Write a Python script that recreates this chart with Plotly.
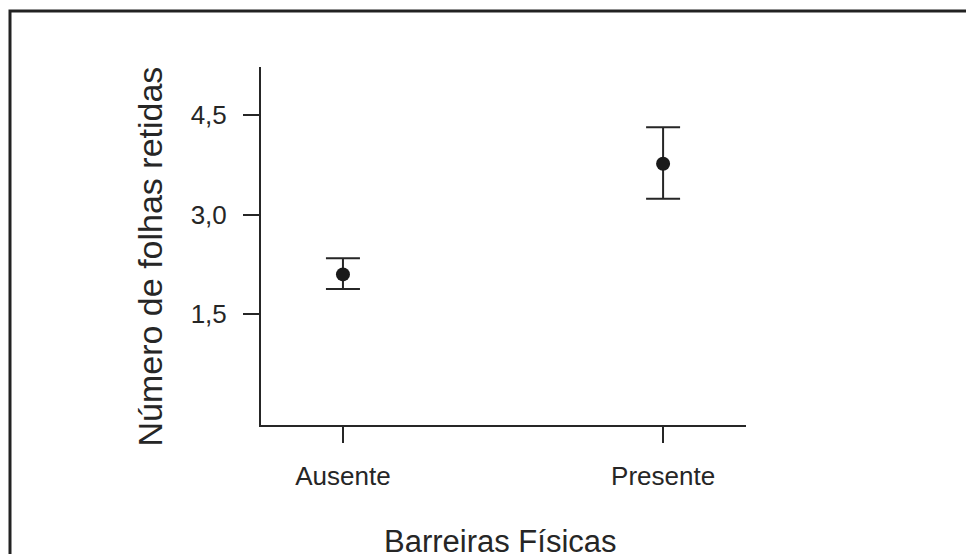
import plotly.graph_objects as go

categories = ["Ausente", "Presente"]
means = [2.10, 3.77]
err_plus = [0.245, 0.55]
err_minus = [0.22, 0.53]
y_tickvals = [1.5, 3.0, 4.5]
y_ticktext = ["1,5", "3,0", "4,5"]

OFF = 8  # page body margin offset
W, H = 974 - OFF, 554 - OFF
L, R, T, B = 261 - OFF, 746 - OFF, 67 - OFF, 425 - OFF
def px_x(p):
    return (p - OFF - L) / (R - L)
def px_y(p):
    return (B - (p - OFF)) / (B - T)

INK = "#262626"
FONT = "Liberation Sans, Arial, sans-serif"

fig = go.Figure()
fig.add_trace(go.Scatter(
    x=categories, y=means, mode="markers",
    marker=dict(size=14, color="#1a1a1a", symbol="circle"),
    error_y=dict(type="data", symmetric=False, array=err_plus, arrayminus=err_minus,
                 color=INK, thickness=2, width=17),
    showlegend=False,
))

fig.update_layout(
    width=W, height=H,
    margin=dict(l=L, r=W - R, t=T, b=H - B, pad=0),
    paper_bgcolor="white", plot_bgcolor="white",
    font=dict(family=FONT, color=INK),
    xaxis=dict(type="category", range=[-0.256, 1.259], showline=True, linecolor=INK, linewidth=2,
               ticks="outside", ticklen=16, tickwidth=2, tickcolor=INK, showgrid=False,
               zeroline=False, tickfont=dict(size=26, color=INK), ticklabelstandoff=11),
    yaxis=dict(range=[-0.173, 5.23], showline=True, linecolor=INK, linewidth=2,
               ticks="outside", ticklen=16, tickwidth=2, tickcolor=INK, showgrid=False,
               zeroline=False, tickvals=y_tickvals, ticktext=y_ticktext,
               tickfont=dict(size=26, color=INK), ticklabelstandoff=11),
)

fig.add_annotation(text="Barreiras Físicas", xref="paper", yref="paper",
                   x=px_x(500.5), y=px_y(541), xanchor="center", yanchor="middle",
                   showarrow=False, font=dict(size=31, color=INK, family=FONT))
fig.add_annotation(text="Número de folhas retidas", xref="paper", yref="paper",
                   x=px_x(149), y=px_y(256.5), xanchor="center", yanchor="middle",
                   textangle=-90, showarrow=False, font=dict(size=34, color=INK, family=FONT))

fig.add_shape(type="rect", xref="paper", yref="paper",
              x0=px_x(10), x1=px_x(1000), y0=px_y(580), y1=px_y(11),
              line=dict(color="#222222", width=3), fillcolor="rgba(0,0,0,0)", layer="above")

fig.write_html("out.html")
